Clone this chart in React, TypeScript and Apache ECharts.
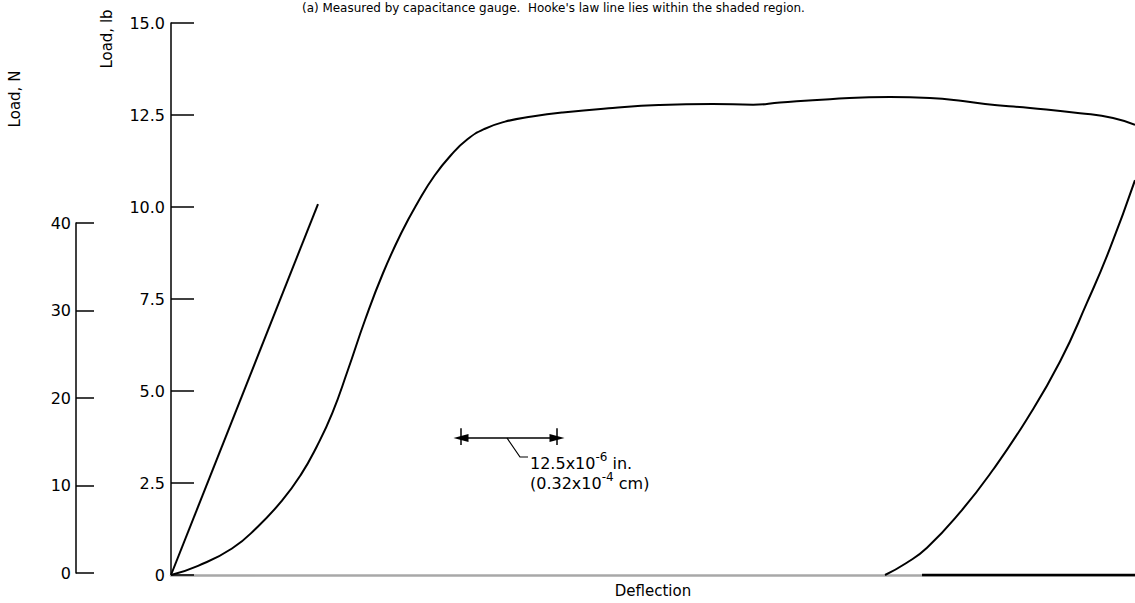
import React, { useEffect, useRef } from "react";
import * as echarts from "echarts";

// Deflection in micro-inches (x), load in lb (y)
const hookeLine: number[][] = [
  [0, 0],
  [19.14, 10.08],
];

const loadingCurve: number[][] = [
  [0, 0],
  [3.52, 0.25],
  [7.94, 0.72],
  [11.33, 1.32],
  [14.45, 2.02],
  [16.9, 2.72],
  [19.0, 3.5],
  [21.0, 4.4],
  [23.0, 5.55],
  [25.3, 6.95],
  [27.6, 8.2],
  [30.0, 9.3],
  [32.2, 10.15],
  [34.3, 10.85],
  [36.5, 11.42],
  [38.6, 11.84],
  [40.8, 12.12],
  [43.5, 12.32],
  [47.0, 12.46],
  [51.0, 12.57],
  [57.5, 12.69],
  [63.5, 12.77],
  [70.5, 12.8],
  [75.8, 12.78],
  [79.3, 12.84],
  [85.8, 12.93],
  [93.6, 12.99],
  [98.8, 12.96],
  [103.1, 12.88],
  [106.0, 12.8],
  [111.85, 12.69],
  [118.36, 12.55],
  [122.66, 12.42],
  [125.52, 12.23],
];

const unloadingCurve: number[][] = [
  [92.97, 0],
  [95.7, 0.32],
  [98.44, 0.74],
  [102.73, 1.7],
  [107.03, 2.86],
  [111.46, 4.24],
  [115.76, 5.8],
  [119.27, 7.4],
  [122.27, 8.88],
  [125.52, 10.73],
];

const unloadedBaseline: number[][] = [
  [97.79, 0],
  [125.52, 0],
];

const deflectionRange = [0, 125.52];
const lbRange = [0, 15];
const lbInterval = 2.5;
const nRange = [0, 40];
const nInterval = 10;

const scaleBarStart = 37.76;
const scaleBarLength = 12.5;
const scaleBarLoad = 3.72;
const scaleBarCap = [3.53, 3.99];

const titleText =
  "(a) Measured by capacitance gauge.  Hooke's law line lies within the shaded region.";
const xName = "Deflection";
const lbName = "Load, lb";
const nName = "Load, N";
const scaleLine1 = "{a|12.5x10}{s|-6}{a| in.}";
const scaleLine2 = "{a|(0.32x10}{s|-4}{a| cm)}";

const FONT = "DejaVu Sans";

export default function App() {
  const ref = useRef<HTMLDivElement>(null);
  useEffect(() => {
    if (!ref.current) return;
    const chart = echarts.init(ref.current, undefined, { renderer: "svg" });
    const lineStyle = { color: "#000", width: 2 };
    const scaleEnd = scaleBarStart + scaleBarLength;
    chart.setOption({
      animation: false,
      backgroundColor: "#fff",
      textStyle: { fontFamily: FONT },
      grid: [
        { left: 171, right: 0, top: 23, bottom: 28 },
        { left: 76, top: 223, bottom: 30, width: 40 },
      ],
      xAxis: [
        {
          type: "value",
          gridIndex: 0,
          min: deflectionRange[0],
          max: deflectionRange[1],
          axisLine: { show: true, lineStyle: { color: "#a8a8a8", width: 2.5 } },
          axisTick: { show: false },
          axisLabel: { show: false },
          splitLine: { show: false },
          name: xName,
          nameLocation: "middle",
          nameGap: 8,
          nameTextStyle: { color: "#000", fontSize: 15, fontFamily: FONT, verticalAlign: "top" },
        },
        {
          type: "value",
          gridIndex: 1,
          show: false,
          min: 0,
          max: 1,
        },
      ],
      yAxis: [
        {
          type: "value",
          gridIndex: 0,
          min: lbRange[0],
          max: lbRange[1],
          interval: lbInterval,
          axisLine: { show: true, lineStyle: { color: "#000", width: 1.5 } },
          axisTick: { show: true, inside: true, length: 23, lineStyle: { color: "#000", width: 1.5 } },
          axisLabel: {
            color: "#000",
            fontSize: 16,
            margin: 6,
            fontFamily: FONT,
            formatter: (v: number) => (v === 0 ? "0" : v.toFixed(1)),
          },
          splitLine: { show: false },
        },
        {
          type: "value",
          gridIndex: 1,
          min: nRange[0],
          max: nRange[1],
          interval: nInterval,
          axisLine: { show: true, lineStyle: { color: "#000", width: 1.5 } },
          axisTick: { show: true, inside: true, length: 18, lineStyle: { color: "#000", width: 1.5 } },
          axisLabel: { color: "#000", fontSize: 16, margin: 5, fontFamily: FONT },
          splitLine: { show: false },
        },
      ],
      series: [
        {
          type: "line",
          name: "Hooke's law line",
          data: hookeLine,
          showSymbol: false,
          symbol: "none",
          clip: false,
          lineStyle,
          markLine: {
            silent: true,
            symbol: ["none", "none"],
            label: { show: false },
            lineStyle: { color: "#000", width: 1.5, type: "solid" },
            data: [
              [
                { coord: [scaleBarStart, scaleBarLoad], symbol: "triangle", symbolSize: [8, 15] },
                { coord: [scaleEnd, scaleBarLoad], symbol: "triangle", symbolSize: [8, 15] },
              ],
              [
                { coord: [scaleBarStart, scaleBarCap[0]], symbol: "none" },
                { coord: [scaleBarStart, scaleBarCap[1]], symbol: "none" },
              ],
              [
                { coord: [scaleEnd, scaleBarCap[0]], symbol: "none" },
                { coord: [scaleEnd, scaleBarCap[1]], symbol: "none" },
              ],
            ],
          },
        },
        {
          type: "line",
          name: "Loading",
          data: loadingCurve,
          showSymbol: false,
          symbol: "none",
          smooth: 0.5,
          clip: false,
          lineStyle,
        },
        {
          type: "line",
          name: "Unloading",
          data: unloadingCurve,
          showSymbol: false,
          symbol: "none",
          smooth: 0.5,
          clip: false,
          lineStyle,
        },
        {
          type: "line",
          name: "Baseline",
          data: unloadedBaseline,
          showSymbol: false,
          symbol: "none",
          clip: false,
          lineStyle: { color: "#000", width: 2.5 },
        },
      ],
      graphic: [
        {
          type: "text",
          x: 302,
          y: 1,
          scaleX: 0.92,
          style: {
            text: titleText,
            fontSize: 13,
            fontFamily: FONT,
            fill: "#000",
            align: "left",
            verticalAlign: "top",
          },
        },
        {
          type: "text",
          x: 107,
          y: 39,
          rotation: Math.PI / 2,
          style: {
            text: lbName,
            fontSize: 15,
            fontFamily: FONT,
            fill: "#000",
            align: "center",
            verticalAlign: "middle",
          },
        },
        {
          type: "text",
          x: 15,
          y: 99,
          rotation: Math.PI / 2,
          style: {
            text: nName,
            fontSize: 15,
            fontFamily: FONT,
            fill: "#000",
            align: "center",
            verticalAlign: "middle",
          },
        },
        {
          type: "polyline",
          shape: { points: [[507, 438], [520, 457], [528, 457]] },
          style: { stroke: "#000", lineWidth: 1.2, fill: null },
        },
        {
          type: "text",
          x: 530,
          y: 451,
          style: {
            text: scaleLine1 + "\n" + scaleLine2,
            fontFamily: FONT,
            fill: "#000",
            align: "left",
            verticalAlign: "top",
            rich: {
              a: { fontSize: 16, lineHeight: 20, verticalAlign: "bottom", fontFamily: FONT },
              s: { fontSize: 12, lineHeight: 20, verticalAlign: "top", fontFamily: FONT },
            },
          },
        },
      ],
    });
    return () => chart.dispose();
  }, []);
  return (
    <div
      ref={ref}
      style={{ position: "absolute", left: 0, top: 0, width: 1135, height: 603 }}
    />
  );
}
